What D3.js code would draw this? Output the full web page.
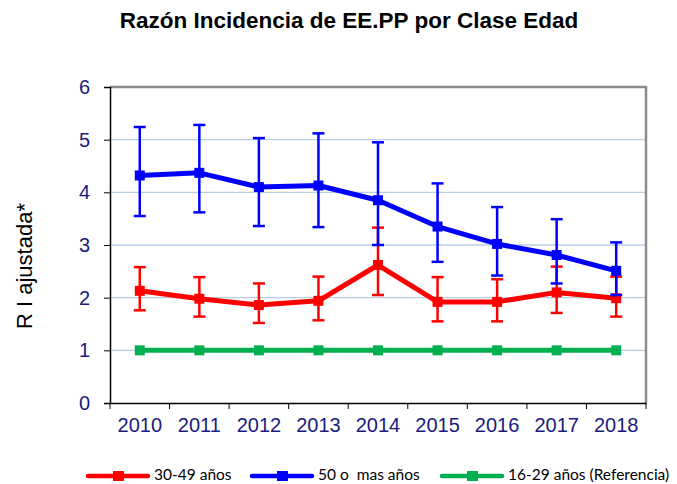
<!DOCTYPE html>
<html>
<head>
<meta charset="utf-8">
<script src="https://cdn.jsdelivr.net/npm/d3@7"></script>
<style>
  body { margin: 0; background: #fff; }
  svg { display: block; }
</style>
</head>
<body>
<svg id="chart" width="677" height="484"></svg>
<script>
var years = ["2010", "2011", "2012", "2013", "2014", "2015", "2016", "2017", "2018"];
var yTicks = [0, 1, 2, 3, 4, 5, 6];

var red = [2.13, 1.98, 1.86, 1.94, 2.62, 1.92, 1.92, 2.10, 1.99];
var redHi = [2.58, 2.39, 2.27, 2.40, 3.33, 2.39, 2.35, 2.59, 2.40];
var redLo = [1.76, 1.64, 1.52, 1.57, 2.05, 1.55, 1.55, 1.71, 1.64];

var blue = [4.32, 4.37, 4.10, 4.13, 3.85, 3.35, 3.02, 2.81, 2.51];
var blueHi = [5.24, 5.28, 5.03, 5.12, 4.95, 4.17, 3.72, 3.49, 3.05];
var blueLo = [3.55, 3.62, 3.36, 3.34, 3.00, 2.68, 2.42, 2.27, 2.05];

var green = [1, 1, 1, 1, 1, 1, 1, 1, 1];

var seriesNames = ["30-49 años", "50 o  mas años", "16-29 años (Referencia)"];

var dimensions = {
    width: 677,
    height: 484,
    margin: { top: 87, bottom: 81, left: 110, right: 31 }
}

var svg = d3.select("#chart")

var xScale = d3.scaleBand()
    .domain(years)
    .range([dimensions.margin.left, dimensions.width - dimensions.margin.right])

var yScale = d3.scaleLinear()
    .domain([0, 6])
    .range([dimensions.height - dimensions.margin.bottom, dimensions.margin.top])

var x = function(i) { return xScale(years[i]) + xScale.bandwidth() / 2 }
var navy = "#1a1a80"

// grid
svg.append("g").selectAll("line")
    .data(yTicks.slice(1, 6))
    .join("line")
    .attr("x1", dimensions.margin.left)
    .attr("x2", dimensions.width - dimensions.margin.right)
    .attr("y1", d => yScale(d))
    .attr("y2", d => yScale(d))
    .attr("stroke", "#b9cde5")
    .attr("stroke-width", 1.3)

// frame (top and right, gray)
svg.append("path")
    .attr("d", `M${dimensions.margin.left},${yScale(6)}H${dimensions.width - dimensions.margin.right}V${yScale(0)}`)
    .attr("fill", "none")
    .attr("stroke", "#8c8c8c")
    .attr("stroke-width", 2.5)

// axes
var yAxisGen = d3.axisLeft(yScale).tickValues(yTicks).tickFormat(d3.format("d")).tickSize(6).tickPadding(14)
var yAxis = svg.append("g")
    .attr("transform", `translate(${dimensions.margin.left},0)`)
    .call(yAxisGen)
yAxis.select(".domain").attr("stroke", "#000").attr("stroke-width", 1.5)
yAxis.selectAll(".tick line").attr("stroke", "#000")
yAxis.selectAll("text")
    .attr("fill", navy)
    .style("font-family", "Arial, 'Liberation Sans', sans-serif")
    .style("font-size", "20px")

var xAxisGen = d3.axisBottom(xScale).tickSize(0).tickPadding(15)
var xAxis = svg.append("g")
    .attr("transform", `translate(0,${yScale(0)})`)
    .call(xAxisGen)
xAxis.select(".domain").attr("stroke", "#000").attr("stroke-width", 1.5)
xAxis.selectAll("text")
    .attr("fill", navy)
    .style("font-family", "Arial, 'Liberation Sans', sans-serif")
    .style("font-size", "20px")

// x tick marks at band boundaries
svg.append("g").selectAll("line")
    .data(years.concat(["end"]))
    .join("line")
    .attr("x1", (d, i) => i < years.length ? xScale(d) : xScale.range()[1])
    .attr("x2", (d, i) => i < years.length ? xScale(d) : xScale.range()[1])
    .attr("y1", yScale(0))
    .attr("y2", yScale(0) + 6)
    .attr("stroke", "#000")
    .attr("stroke-width", 1)

function drawSeries(values, lo, hi, color) {
    var g = svg.append("g")
    if (lo) {
        values.forEach(function(v, i) {
            g.append("line")
                .attr("x1", x(i)).attr("x2", x(i))
                .attr("y1", yScale(lo[i])).attr("y2", yScale(hi[i]))
                .attr("stroke", color).attr("stroke-width", 2.5)
            ;[lo[i], hi[i]].forEach(function(e) {
                g.append("line")
                    .attr("x1", x(i) - 6).attr("x2", x(i) + 6)
                    .attr("y1", yScale(e)).attr("y2", yScale(e))
                    .attr("stroke", color).attr("stroke-width", 2.5)
            })
        })
    }
    var line = d3.line()
        .x((d, i) => x(i))
        .y(d => yScale(d))
    g.append("path")
        .datum(values)
        .attr("d", line)
        .attr("fill", "none")
        .attr("stroke", color)
        .attr("stroke-width", 5)
        .attr("stroke-linejoin", "round")
    g.selectAll("rect.m")
        .data(values)
        .join("rect")
        .attr("x", (d, i) => x(i) - 5)
        .attr("y", d => yScale(d) - 5)
        .attr("width", 10)
        .attr("height", 10)
        .attr("fill", color)
}

drawSeries(red, redLo, redHi, "#ff0000")
drawSeries(blue, blueLo, blueHi, "#0000ff")
drawSeries(green, null, null, "#00b050")

// title
svg.append("text")
    .attr("x", 349)
    .attr("y", 28)
    .attr("text-anchor", "middle")
    .style("font-family", "Arial, 'Liberation Sans', sans-serif")
    .style("font-size", "22.5px")
    .style("font-weight", "bold")
    .text("Razón Incidencia de EE.PP por Clase Edad")

// y axis title
svg.append("text")
    .attr("transform", "translate(32,266) rotate(-90)")
    .attr("text-anchor", "middle")
    .style("font-family", "Arial, 'Liberation Sans', sans-serif")
    .style("font-size", "22px")
    .text("R I ajustada*")

// legend
var legendColors = ["#ff0000", "#0000ff", "#00b050"]
var legendX = [88, 252, 442]
var legend = svg.append("g")
legendColors.forEach(function(c, i) {
    legend.append("line")
        .attr("x1", legendX[i]).attr("x2", legendX[i] + 60)
        .attr("y1", 476).attr("y2", 476)
        .attr("stroke", c).attr("stroke-width", 4.5)
        .attr("stroke-linecap", "round")
    legend.append("rect")
        .attr("x", legendX[i] + 25).attr("y", 471)
        .attr("width", 11).attr("height", 10)
        .attr("fill", c)
    legend.append("text")
        .attr("x", legendX[i] + 66)
        .attr("y", 480)
        .style("font-family", "Lato, sans-serif")
        .style("font-size", "15.5px")
        .style("white-space", "pre")
        .text(seriesNames[i])
})
</script>
</body>
</html>
